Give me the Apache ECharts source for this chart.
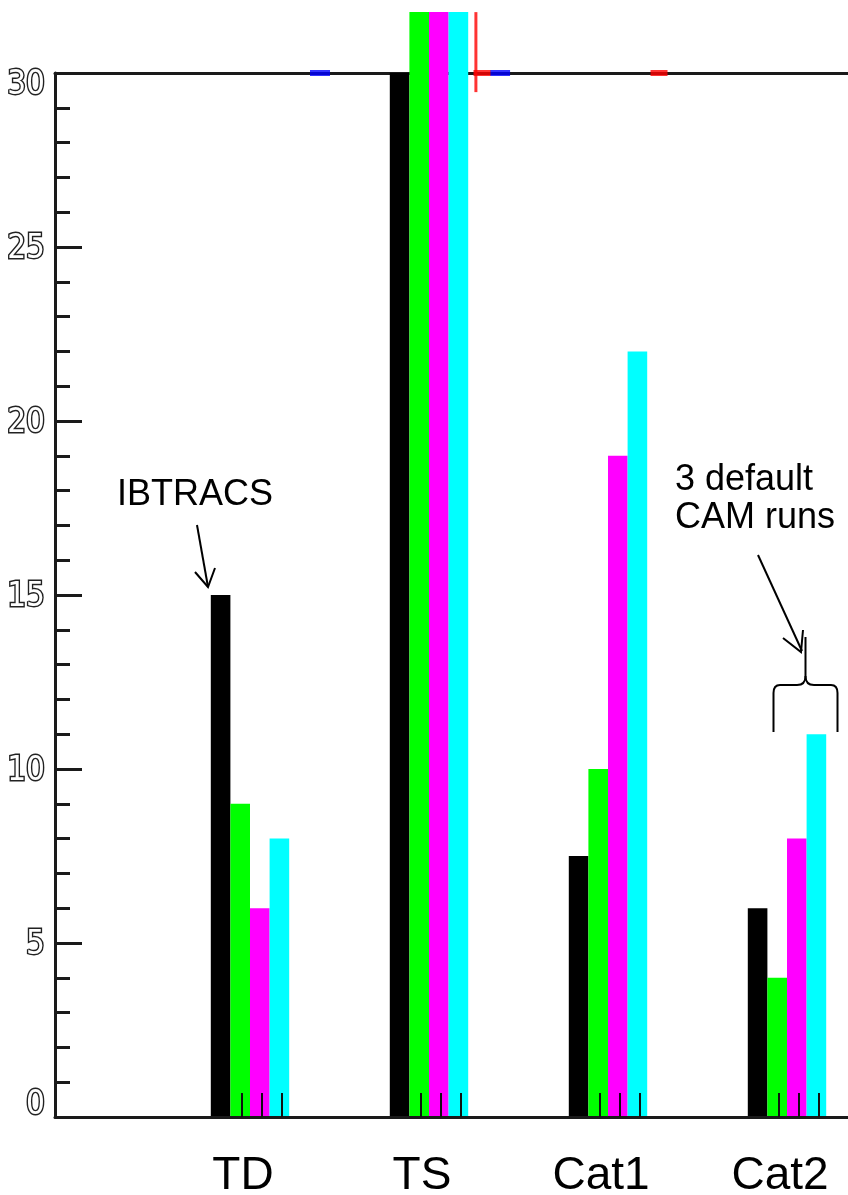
<!DOCTYPE html>
<html>
<head>
<meta charset="utf-8">
<script src="https://cdn.jsdelivr.net/npm/echarts@6/dist/echarts.min.js"></script>
<style>
html,body{margin:0;padding:0;background:#fff;}
#chart{width:848px;height:1195px;}
</style>
</head>
<body>
<div id="chart"></div>
<script>
// ---- data ----
const categories = ['TD', 'TS', 'Cat1', 'Cat2'];
const ibtracs = [15, 30, 7.5, 6];          // black
const camRun1 = [9, 31.75, 10, 4];         // green
const camRun2 = [6, 31.75, 19, 8];         // magenta
const camRun3 = [8, 31.75, 22, 11];        // cyan
const yTickValues = [0, 5, 10, 15, 20, 25, 30];
// small marks sitting on the 30 line (position on category scale, value)
const blueMarks = [[1.391, 30], [2.397, 30]];
const redMarks = [[2.296, 30], [3.285, 30]];
const redBar = [[2.262, 30.6]];

// ---- layout ----
const W = 848, H = 1195;
const gridLeft = 55, gridRight = 0, gridTop = 73, gridBottom = 78;
const pxPerCat = 179;
const firstCenterPx = 250;
const barPx = 19.6;
const gridW = W - gridLeft - gridRight;
const xMin = 1 - (firstCenterPx - gridLeft) / pxPerCat;
const xMax = xMin + gridW / pxPerCat;
const bwU = barPx / pxPerCat;
const tickVals = [];
categories.forEach((c, i) => {
  [-0.5, 0.5, 1.5].forEach(k => tickVals.push(i + 1 + k * bwU + 2 / pxPerCat));
});

const chart = echarts.init(document.getElementById('chart'), null, {renderer: 'canvas'});

function barSeries(name, data, color) {
  return {
    name: name, type: 'bar', clip: false,
    data: data.map((v, i) => [i + 1, v]),
    barWidth: barPx, barGap: '0%',
    itemStyle: {color: color},
    emphasis: {disabled: true}
  };
}
function markSeries(data, color, size) {
  return {
    type: 'scatter', clip: false, symbol: 'rect', symbolSize: size,
    data: data, itemStyle: {color: color}, z: 5, silent: true
  };
}

const axisFont = '"Liberation Sans Narrow", "DejaVu Sans Condensed", sans-serif';
const ylabStyle = {fontFamily: axisFont, fontSize: 33, color: '#fff', textBorderColor: '#222', textBorderWidth: 2.8};
const ln = {stroke: '#000', lineWidth: 2, fill: null};
const annFont = '36px "Liberation Sans", Arial, sans-serif';
const frameLine = {color: '#1a1a1a', width: 3};

const option = {
  animation: false,
  backgroundColor: '#ffffff',
  grid: {
    left: gridLeft, right: gridRight, top: gridTop, bottom: gridBottom, show: false,
    containLabel: false, outerBoundsMode: 'none'
  },
  xAxis: [{
    type: 'value', min: xMin, max: xMax, z: 4, position: 'bottom',
    axisLine: {show: true, onZero: false, lineStyle: frameLine},
    splitLine: {show: false},
    axisTick: {show: true, inside: true, length: 24, customValues: tickVals,
      lineStyle: {color: '#111', width: 2}},
    axisLabel: {
      show: true, customValues: [1, 2, 3, 4],
      formatter: v => categories[Math.round(v) - 1],
      fontFamily: '"Liberation Sans", Arial, sans-serif', fontSize: 46, color: '#000',
      margin: 36, padding: [0, 14, 0, 0]
    }
  }, {
    type: 'value', min: xMin, max: xMax, position: 'top',
    axisLine: {show: true, onZero: false, lineStyle: frameLine},
    splitLine: {show: false}, axisTick: {show: false}, axisLabel: {show: false}
  }],
  yAxis: {
    type: 'value', min: 0, max: 30, interval: 5,
    axisLine: {show: true, onZero: false, lineStyle: frameLine},
    splitLine: {show: false},
    axisTick: {show: true, inside: true, length: 27, lineStyle: {color: '#1a1a1a', width: 3}},
    minorTick: {show: true, splitNumber: 5, length: 15, lineStyle: {color: '#1a1a1a', width: 3}},
    axisLabel: {
      margin: 10,
      formatter: v => {
        if (yTickValues.indexOf(v) < 0) return '';
        if (v === 30) return '{t|30}';
        if (v === 0) return '{b|0}';
        return '{n|' + v + '}';
      },
      rich: {
        n: Object.assign({}, ylabStyle, {padding: [4, 0, 0, 0]}),
        t: Object.assign({}, ylabStyle, {padding: [24, 0, 0, 0]}),
        b: Object.assign({}, ylabStyle, {padding: [0, 0, 24, 0]})
      }
    }
  },
  series: [
    barSeries('IBTRACS', ibtracs, '#000000'),
    barSeries('CAM run 1', camRun1, '#00ff00'),
    barSeries('CAM run 2', camRun2, '#ff00ff'),
    barSeries('CAM run 3', camRun3, '#00ffff'),
    markSeries(blueMarks, '#0000ff', [20, 6]),
    markSeries(redMarks, '#ff0000', [17, 6]),
    markSeries(redBar, '#ff0000', [3, 80])
  ],
  graphic: [
    {type: 'text', x: 117, y: 477, style: {text: 'IBTRACS', font: annFont, fill: '#000'}},
    {type: 'line', shape: {x1: 197, y1: 525, x2: 208, y2: 587}, style: ln},
    {type: 'polyline', shape: {points: [[195, 572], [208, 587], [215, 568]]}, style: ln},
    {type: 'text', x: 675, y: 461, style: {text: '3 default\nCAM runs', font: annFont, lineHeight: 38, fill: '#000'}},
    {type: 'line', shape: {x1: 758, y1: 555, x2: 802, y2: 651}, style: ln},
    {type: 'polyline', shape: {points: [[783, 638], [801, 652], [803, 630]]}, style: ln},
    {type: 'line', shape: {x1: 805.5, y1: 637, x2: 805.5, y2: 676}, style: ln},
    {type: 'bezierCurve', shape: {x1: 805.5, y1: 676, cpx1: 805.5, cpy1: 685, x2: 797, y2: 685}, style: ln},
    {type: 'line', shape: {x1: 797, y1: 685, x2: 780, y2: 685}, style: ln},
    {type: 'bezierCurve', shape: {x1: 780, y1: 685, cpx1: 773.5, cpy1: 685, x2: 773.5, y2: 693}, style: ln},
    {type: 'line', shape: {x1: 773.5, y1: 693, x2: 773.5, y2: 732}, style: ln},
    {type: 'bezierCurve', shape: {x1: 805.5, y1: 676, cpx1: 805.5, cpy1: 685, x2: 814, y2: 685}, style: ln},
    {type: 'line', shape: {x1: 814, y1: 685, x2: 831, y2: 685}, style: ln},
    {type: 'bezierCurve', shape: {x1: 831, y1: 685, cpx1: 837.5, cpy1: 685, x2: 837.5, y2: 693}, style: ln},
    {type: 'line', shape: {x1: 837.5, y1: 693, x2: 837.5, y2: 732}, style: ln}
  ]
};
chart.setOption(option);
</script>
</body>
</html>
